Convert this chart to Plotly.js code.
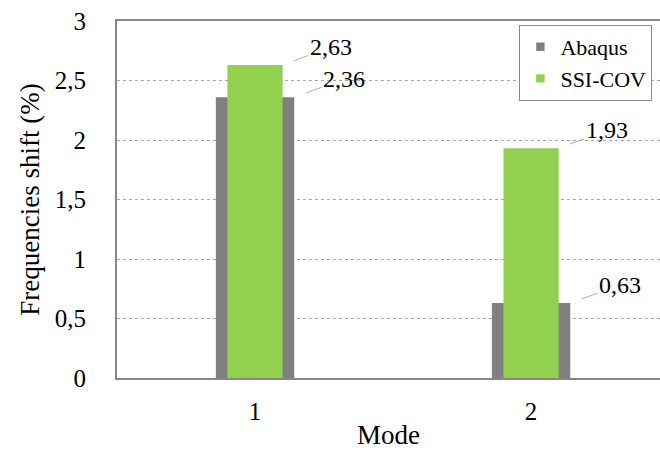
<!DOCTYPE html>
<html>
<head>
<meta charset="utf-8">
<script src="https://cdn.plot.ly/plotly-3.0.1.min.js"></script>
<style>
  html, body { margin: 0; padding: 0; background: #fff; }
  #chart { width: 660px; height: 450px; }
</style>
</head>
<body>
<div id="chart"></div>
<script>
// ---- data ----
const modes = [1, 2];
const modeLabels = ['1', '2'];
const abaqus = [2.36, 0.63];
const ssiCov = [2.63, 1.93];
const seriesNames = ['Abaqus', 'SSI-COV'];
const yTicks = [0, 0.5, 1, 1.5, 2, 2.5, 3];

// ---- styling ----
const grayW = 0.284, greenW = 0.2;
const FAM = 'Liberation Serif';
const fmt = v => v.toString().replace('.', ',');

const traces = [
  {
    type: 'bar', name: seriesNames[0], x: modes, y: abaqus,
    width: modes.map(() => grayW),
    marker: { color: '#808080', line: { width: 0 } },
    hoverinfo: 'skip'
  },
  {
    type: 'bar', name: seriesNames[1], x: modes, y: ssiCov,
    width: modes.map(() => greenW),
    marker: { color: '#92d050', line: { width: 0 } },
    hoverinfo: 'skip'
  }
];

const annotations = [];
function label(xv, yv, ax, ay, txt) {
  annotations.push({
    x: xv, y: yv, xref: 'x', yref: 'y', text: txt,
    showarrow: true, arrowhead: 0, arrowwidth: 1, arrowcolor: '#b0b0a8',
    ax: ax, ay: ay, standoff: 12, startstandoff: 0,
    font: { family: FAM, size: 24, color: '#000' }
  });
}
modes.forEach((m, i) => {
  label(m + greenW / 2, ssiCov[i], 48, -18, fmt(ssiCov[i]));
  label(m + grayW / 2, abaqus[i], 50, -18, fmt(abaqus[i]));
});

const layout = {
  width: 660, height: 450,
  margin: { l: 117, r: 0, t: 21, b: 72 },
  paper_bgcolor: '#fff', plot_bgcolor: '#fff',
  separators: ', ',
  barmode: 'overlay',
  showlegend: true,
  font: { family: FAM, color: '#000' },
  xaxis: {
    range: [0.5, 2.467], tickvals: modes, ticktext: modeLabels,
    showgrid: false, zeroline: false,
    showline: true, linecolor: '#868686', linewidth: 2, mirror: true,
    ticks: '', ticklabelstandoff: 10,
    tickfont: { family: FAM, size: 25, color: '#000' },
    title: { text: 'Mode', font: { family: FAM, size: 27, color: '#000' }, standoff: 16 }
  },
  yaxis: {
    range: [0, 3], tickvals: yTicks, ticktext: yTicks.map(fmt),
    showgrid: true, gridcolor: '#a6a6a6', griddash: 'dot', gridwidth: 1,
    zeroline: false, showline: true, linecolor: '#868686', linewidth: 2,
    ticks: '', ticklabelstandoff: 24,
    tickfont: { family: FAM, size: 25, color: '#000' },
    title: { text: 'Frequencies shift (%)', font: { family: FAM, size: 27, color: '#000' }, standoff: 7 }
  },
  legend: {
    x: 0.986, y: 0.989, xanchor: 'right', yanchor: 'top',
    bgcolor: '#fff', bordercolor: '#8a8a8a', borderwidth: 1,
    font: { family: FAM, size: 22, color: '#000' },
    traceorder: 'normal'
  },
  annotations: annotations
};

Plotly.newPlot('chart', traces, layout, { displayModeBar: false, staticPlot: true }).then(gd => {
  gd.querySelectorAll('.legend .legendpoints path').forEach(p => {
    p.setAttribute('transform', (p.getAttribute('transform') || '') + ' scale(0.7)');
  });
});
</script>
</body>
</html>
